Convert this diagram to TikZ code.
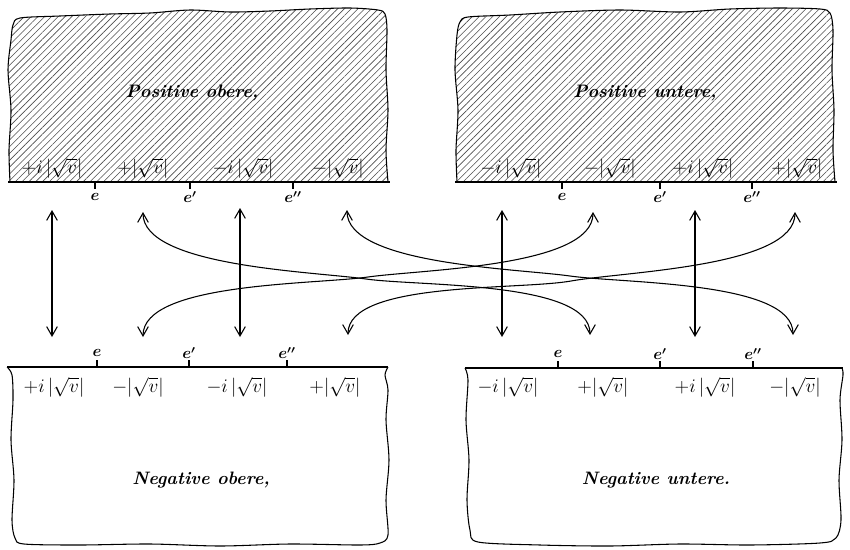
\documentclass[tikz,border=0pt]{standalone}
\usetikzlibrary{positioning,patterns.meta,arrows.meta}
\usepackage{amsmath}

\begin{document}
\begin{tikzpicture}[x=0.75pt, y=0.75pt,
    every node/.style={inner sep=1pt},
    obszar/.style={line width=0.8pt},
    kreska/.style={line width=1.6pt},
    znak/.style={line width=1pt},
    kreskowanie/.style={pattern={Lines[angle=45, distance=3.6pt, line width=0.45pt]}, pattern color=black!70},
    wartosc/.style={font=\Large},
    punkt/.style={font=\large\boldmath},
    napis/.style={font=\fontsize{13.5}{16}\selectfont\bfseries\itshape},
    strzalka/.style={line width=0.8pt, looseness=0.6, {Straight Barb[length=7pt,width=8pt]}-{Straight Barb[length=7pt,width=8pt]}}]
    \useasboundingbox (0,0) rectangle (850,-550);

    % Obszary
    \fill[kreskowanie] plot[smooth] coordinates {(10,-182) (9,-150) (11,-110) (8,-70) (11,-40) (13,-25) (20,-18) (60,-16) (110,-14) (150,-13) (190,-10) (230,-12) (270,-11) (310,-9) (350,-8) (378,-10) (385,-14) (387,-30) (386,-70) (388,-110) (386,-150) (388,-182)} -- cycle;
    \draw[obszar] plot[smooth] coordinates {(10,-182) (9,-150) (11,-110) (8,-70) (11,-40) (13,-25) (20,-18) (60,-16) (110,-14) (150,-13) (190,-10) (230,-12) (270,-11) (310,-9) (350,-8) (378,-10) (385,-14) (387,-30) (386,-70) (388,-110) (386,-150) (388,-182)};
    \draw[kreska] (8,-182) -- (390,-182);

    \fill[kreskowanie] plot[smooth] coordinates {(457,-182) (456,-150) (458,-110) (455,-70) (457,-35) (460,-22) (468,-17) (510,-15) (560,-12) (620,-10) (680,-12) (730,-9) (780,-8) (820,-9) (830,-13) (833,-30) (832,-70) (834,-110) (833,-150) (835,-182)} -- cycle;
    \draw[obszar] plot[smooth] coordinates {(457,-182) (456,-150) (458,-110) (455,-70) (457,-35) (460,-22) (468,-17) (510,-15) (560,-12) (620,-10) (680,-12) (730,-9) (780,-8) (820,-9) (830,-13) (833,-30) (832,-70) (834,-110) (833,-150) (835,-182)};
    \draw[kreska] (455,-182) -- (837,-182);

    \draw[obszar] plot[smooth] coordinates {(7,-367) (12,-375) (13,-400) (11,-440) (14,-480) (12,-520) (15,-538) (24,-544) (80,-545) (150,-544) (220,-546) (290,-544) (360,-545) (380,-543) (388,-535) (386,-500) (389,-460) (386,-420) (388,-390) (385,-375) (388,-367)};
    \draw[kreska] (7,-367) -- (388,-367);

    \draw[obszar] plot[smooth] coordinates {(465,-368) (468,-380) (466,-420) (469,-460) (467,-500) (470,-530) (478,-542) (540,-545) (610,-546) (680,-544) (750,-545) (820,-543) (836,-538) (841,-520) (839,-480) (842,-440) (840,-400) (843,-375) (842,-368)};
    \draw[kreska] (465,-368) -- (843,-368);

    % Napisy
    \node[napis] (po) at (192,-93) {Positive obere,};
    \node[napis] (pu) at (645,-93) {Positive untere,};
    \node[napis] (no) at (201,-480) {Negative obere,};
    \node[napis] (nu) at (656,-480) {Negative untere.};

    % Wartosci
    \node[wartosc] (po1) at (52,-168) {$+i\,|\sqrt{v}|$};
    \node[wartosc] (po2) at (143,-168) {$+|\sqrt{v}|$};
    \node[wartosc] (po3) at (243,-168) {$-i\,|\sqrt{v}|$};
    \node[wartosc] (po4) at (338,-168) {$-|\sqrt{v}|$};

    \node[wartosc] (pu1) at (511,-168) {$-i\,|\sqrt{v}|$};
    \node[wartosc] (pu2) at (610,-168) {$-|\sqrt{v}|$};
    \node[wartosc] (pu3) at (703,-168) {$+i\,|\sqrt{v}|$};
    \node[wartosc] (pu4) at (797,-168) {$+|\sqrt{v}|$};

    \node[wartosc] (no1) at (54,-387) {$+i\,|\sqrt{v}|$};
    \node[wartosc] (no2) at (138,-387) {$-|\sqrt{v}|$};
    \node[wartosc] (no3) at (237,-387) {$-i\,|\sqrt{v}|$};
    \node[wartosc] (no4) at (335,-387) {$+|\sqrt{v}|$};

    \node[wartosc] (nu1) at (508,-387) {$-i\,|\sqrt{v}|$};
    \node[wartosc] (nu2) at (603,-387) {$+|\sqrt{v}|$};
    \node[wartosc] (nu3) at (705,-387) {$+i\,|\sqrt{v}|$};
    \node[wartosc] (nu4) at (795,-387) {$-|\sqrt{v}|$};

    % Punkty e
    \draw[znak] (95,-182) -- (95,-189);
    \draw[znak] (190,-182) -- (190,-189);
    \draw[znak] (293,-182) -- (293,-189);
    \node[punkt] (poe1) at (95,-197) {$e$};
    \node[punkt] (poe2) at (190,-197) {$e'$};
    \node[punkt] (poe3) at (293,-197) {$e''$};

    \draw[znak] (562,-182) -- (562,-189);
    \draw[znak] (660,-182) -- (660,-189);
    \draw[znak] (752,-182) -- (752,-189);
    \node[punkt] (pue1) at (562,-197) {$e$};
    \node[punkt] (pue2) at (660,-197) {$e'$};
    \node[punkt] (pue3) at (752,-197) {$e''$};

    \draw[znak] (97,-367) -- (97,-360);
    \draw[znak] (189,-367) -- (189,-360);
    \draw[znak] (287,-367) -- (287,-360);
    \node[punkt] (noe1) at (97,-353) {$e$};
    \node[punkt] (noe2) at (189,-353) {$e'$};
    \node[punkt] (noe3) at (287,-353) {$e''$};

    \draw[znak] (558,-368) -- (558,-361);
    \draw[znak] (660,-368) -- (660,-361);
    \draw[znak] (753,-368) -- (753,-361);
    \node[punkt] (nue1) at (558,-354) {$e$};
    \node[punkt] (nue2) at (660,-354) {$e'$};
    \node[punkt] (nue3) at (753,-354) {$e''$};

    % Konce strzalek
    \coordinate (a1) at (52,-210);
    \coordinate (a2) at (143,-212);
    \coordinate (a3) at (240,-208);
    \coordinate (a4) at (347,-210);
    \coordinate (a5) at (502,-210);
    \coordinate (a6) at (593,-212);
    \coordinate (a7) at (695,-210);
    \coordinate (a8) at (795,-212);

    \coordinate (b1) at (52,-337);
    \coordinate (b2) at (143,-337);
    \coordinate (b3) at (240,-337);
    \coordinate (b4) at (348,-335);
    \coordinate (b5) at (502,-337);
    \coordinate (b6) at (590,-335);
    \coordinate (b7) at (695,-337);
    \coordinate (b8) at (793,-335);

    % Srodki lukow
    \coordinate (m1) at (366,-279);
    \coordinate (m2) at (570,-276);
    \coordinate (m3) at (368,-277);
    \coordinate (m4) at (571,-281);

    % Strzalki
    \draw[strzalka] (a1) -- (b1);
    \draw[strzalka] (a3) -- (b3);
    \draw[strzalka] (a5) -- (b5);
    \draw[strzalka] (a7) -- (b7);
    \draw[strzalka] (a2) to[out=-90, in=172] (m1) to[out=-8, in=90] (b6);
    \draw[strzalka] (a4) to[out=-90, in=172] (m2) to[out=-8, in=90] (b8);
    \draw[strzalka] (a6) to[out=-90, in=8] (m3) to[out=188, in=90] (b2);
    \draw[strzalka] (a8) to[out=-90, in=10] (m4) to[out=190, in=90] (b4);
\end{tikzpicture}
\end{document}
